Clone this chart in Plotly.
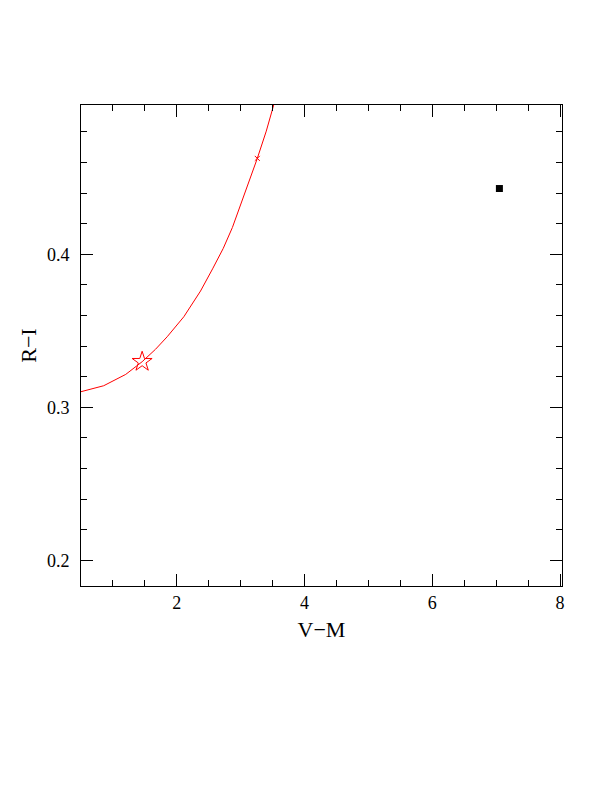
import plotly.graph_objects as go

# Red model track (V-M, R-I)
track_vm = [0.5, 0.855, 1.20, 1.457, 1.666, 1.849, 2.110, 2.371, 2.560, 2.727, 2.870, 2.999, 3.130, 3.26, 3.40, 3.51, 3.56]
track_ri = [0.3102, 0.3141, 0.3215, 0.3298, 0.3379, 0.3461, 0.3592, 0.3760, 0.3905, 0.4039, 0.4175, 0.4320, 0.4470, 0.4627, 0.4805, 0.4965, 0.5040]

# Star marker on track
star_vm = [1.457]
star_ri = [0.3298]

# Small cross marker on track
cross_vm = [3.26]
cross_ri = [0.4627]

# Observed object
obs_vm = [7.05]
obs_ri = [0.443]

x_range = [0.5, 8.03]
y_range = [0.1832, 0.4976]
x_ticks = [2, 4, 6, 8]
y_ticks = [0.2, 0.3, 0.4]

fig = go.Figure()
fig.add_trace(go.Scatter(x=track_vm, y=track_ri, mode="lines",
                         line=dict(color="red", width=1), showlegend=False))
fig.add_trace(go.Scatter(x=star_vm, y=star_ri, mode="markers",
                         marker=dict(symbol="star-open", size=15, color="red",
                                     line=dict(color="red", width=1)), showlegend=False))
fig.add_trace(go.Scatter(x=cross_vm, y=cross_ri, mode="markers",
                         marker=dict(symbol="x-thin-open", size=5, color="red",
                                     line=dict(color="red", width=1)), showlegend=False))
fig.add_trace(go.Scatter(x=obs_vm, y=obs_ri, mode="markers",
                         marker=dict(symbol="square", size=7, color="black",
                                     line=dict(width=0)), showlegend=False))

font_family = "Liberation Serif, DejaVu Serif, serif"
axis_common = dict(
    showgrid=False, zeroline=False, showline=True, linecolor="black", linewidth=1,
    mirror="allticks", ticks="inside", ticklen=12, tickwidth=1, tickcolor="black",
    tickfont=dict(family=font_family, size=18, color="black"),
)

fig.update_xaxes(range=x_range, tickvals=x_ticks, ticktext=[str(v) for v in x_ticks],
                 minor=dict(dtick=0.5, tick0=0, ticks="inside", ticklen=6, tickcolor="black", tickwidth=1),
                 title=dict(text="V\u2212M", font=dict(family=font_family, size=22, color="black"), standoff=10),
                 **axis_common)
fig.update_yaxes(range=y_range, tickvals=y_ticks, ticktext=["0.2", "0.3", "0.4"],
                 ticklabelstandoff=7,
                 minor=dict(dtick=0.02, tick0=0, ticks="inside", ticklen=6, tickcolor="black", tickwidth=1),
                 title=dict(text="R\u2212I", font=dict(family=font_family, size=22, color="black"), standoff=4),
                 **axis_common)

fig.update_layout(width=604, height=784, margin=dict(l=73, r=50, t=97, b=206),
                  plot_bgcolor="white", paper_bgcolor="white")

fig.write_html("out.html")
